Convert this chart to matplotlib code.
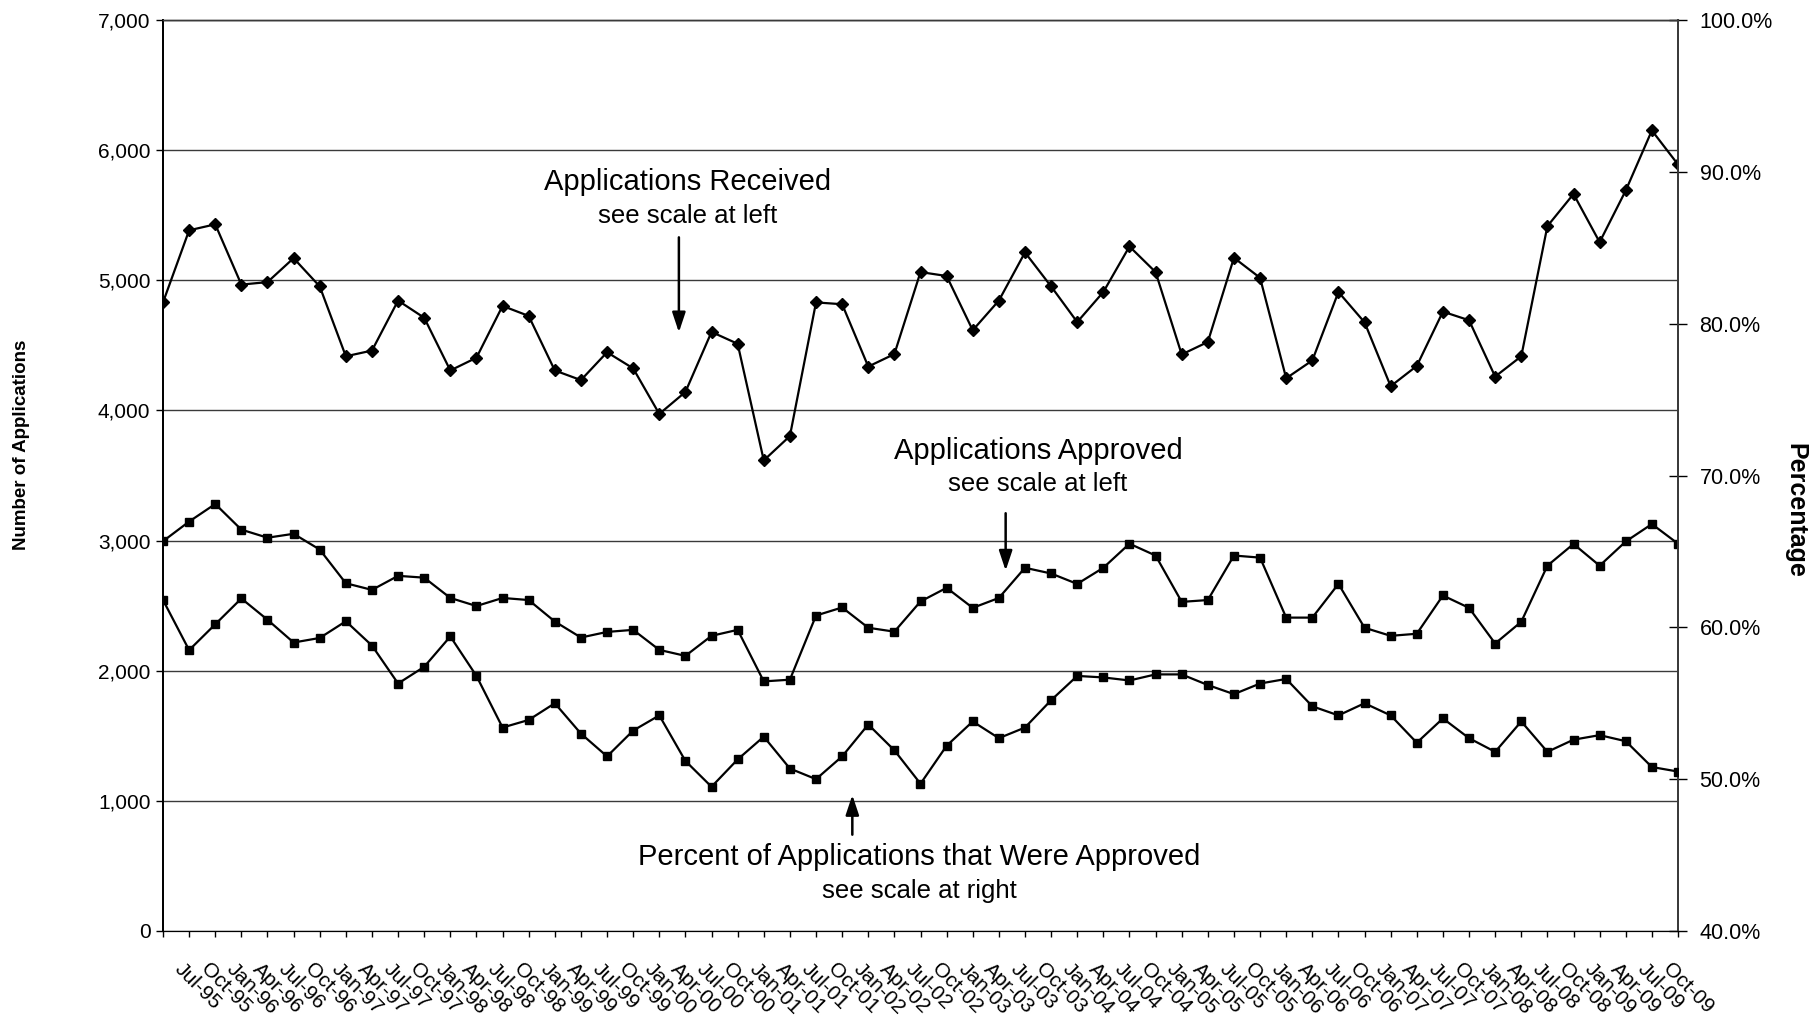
import matplotlib
matplotlib.use('Agg')
import matplotlib.pyplot as plt
from matplotlib.ticker import FuncFormatter
from matplotlib.transforms import ScaledTranslation

plt.rcParams['font.family'] = ['Liberation Sans', 'DejaVu Sans']

# Quarterly figures; the first point sits on the axis and carries no label
quarter_labels = ['',
                  'Jul-95', 'Oct-95', 'Jan-96', 'Apr-96', 'Jul-96', 'Oct-96',
                  'Jan-97', 'Apr-97', 'Jul-97', 'Oct-97', 'Jan-98', 'Apr-98',
                  'Jul-98', 'Oct-98', 'Jan-99', 'Apr-99', 'Jul-99', 'Oct-99',
                  'Jan-00', 'Apr-00', 'Jul-00', 'Oct-00', 'Jan-01', 'Apr-01',
                  'Jul-01', 'Oct-01', 'Jan-02', 'Apr-02', 'Jul-02', 'Oct-02',
                  'Jan-03', 'Apr-03', 'Jul-03', 'Oct-03', 'Jan-04', 'Apr-04',
                  'Jul-04', 'Oct-04', 'Jan-05', 'Apr-05', 'Jul-05', 'Oct-05',
                  'Jan-06', 'Apr-06', 'Jul-06', 'Oct-06', 'Jan-07', 'Apr-07',
                  'Jul-07', 'Oct-07', 'Jan-08', 'Apr-08', 'Jul-08', 'Oct-08',
                  'Jan-09', 'Apr-09', 'Jul-09', 'Oct-09']

received = [4830, 5384, 5430, 4967, 4986, 5170, 4953, 4416, 4460, 4844,
            4712, 4307, 4405, 4803, 4726, 4307, 4233, 4447, 4323, 3973,
            4142, 4603, 4512, 3616, 3803, 4830, 4816, 4337, 4433, 5063,
            5033, 4616, 4844, 5214, 4953, 4679, 4910, 5260, 5063, 4430,
            4526, 5173, 5019, 4247, 4384, 4910, 4677, 4186, 4342, 4759,
            4693, 4260, 4416, 5416, 5663, 5293, 5690, 6151, 5890]

approved = [2995, 3146, 3281, 3084, 3022, 3052, 2931, 2672, 2621, 2729,
            2715, 2559, 2497, 2559, 2543, 2378, 2255, 2298, 2314, 2160,
            2114, 2268, 2314, 1918, 1931, 2424, 2486, 2330, 2300, 2532,
            2637, 2483, 2559, 2791, 2747, 2667, 2791, 2976, 2885, 2529,
            2543, 2885, 2869, 2408, 2408, 2667, 2330, 2268, 2284, 2578,
            2483, 2209, 2376, 2807, 2974, 2807, 2993, 3127, 2976]

pct_approved = [61.8, 58.5, 60.2, 61.9, 60.5, 59.0, 59.3, 60.4, 58.8, 56.3,
                57.4, 59.4, 56.8, 53.4, 53.9, 55.0, 53.0, 51.5, 53.2, 54.2,
                51.2, 49.5, 51.3, 52.8, 50.7, 50.0, 51.5, 53.6, 51.9, 49.7,
                52.2, 53.8, 52.7, 53.4, 55.2, 56.8, 56.7, 56.5, 56.9, 56.9,
                56.2, 55.6, 56.3, 56.6, 54.8, 54.2, 55.0, 54.2, 52.4, 54.0,
                52.7, 51.8, 53.8, 51.8, 52.6, 52.9, 52.5, 50.8, 50.5]

x = list(range(len(received)))

fig = plt.figure(figsize=(18.18, 10.15), dpi=100)
ax = fig.add_axes([163 / 1818, 1 - 931 / 1015, 1515 / 1818, 911 / 1015])
ax2 = ax.twinx()

# Lines
ax.plot(x, received, color='black', lw=1.6, marker='D', ms=6.5, zorder=3)
ax.plot(x, approved, color='black', lw=1.6, marker='s', ms=6, zorder=3)
ax2.plot(x, pct_approved, color='black', lw=1.6, marker='s', ms=6, zorder=3)

# Axes ranges and grid
ax.set_xlim(0, len(received) - 1)
ax.set_ylim(0, 7000)
ax2.set_ylim(40, 100)
ax.set_yticks(range(0, 7001, 1000))
ax2.set_yticks(range(40, 101, 10))
ax.yaxis.set_major_formatter(FuncFormatter(lambda v, p: f'{int(v):,}'))
ax2.yaxis.set_major_formatter(FuncFormatter(lambda v, p: f'{v:.1f}%'))
ax.yaxis.grid(True, color='#3a3a3a', lw=1)
ax.set_axisbelow(True)

for a in (ax, ax2):
    a.spines['top'].set_color('#3a3a3a')
    a.spines['top'].set_linewidth(1)
    a.spines['left'].set_color('black')
    a.spines['right'].set_color('#3a3a3a')
    a.spines['bottom'].set_color('black')
    a.spines['left'].set_linewidth(1.3)
    a.spines['right'].set_linewidth(1.3)

ax.tick_params(axis='y', direction='out', length=5, width=1, pad=4,
               labelsize=15, colors='black')
ax2.tick_params(axis='y', direction='inout', length=13, width=1, pad=9,
                labelsize=15.5, colors='black')
ax.tick_params(axis='x', direction='out', length=4.5, width=1, pad=16)

ax.set_xticks(x)
ax.set_xticklabels(quarter_labels, rotation=-45, ha='left', va='top',
                   rotation_mode='anchor', fontsize=15)
shift = ScaledTranslation(-5 / 100, 0, fig.dpi_scale_trans)
for lab in ax.get_xticklabels():
    lab.set_transform(lab.get_transform() + shift)

# Axis titles
fig.text(22 / 1818, 1 - 445 / 1015, 'Number of Applications', rotation=90,
         ha='center', va='center', fontsize=13.5, fontweight='bold')
fig.text(1795 / 1818, 1 - 510 / 1015, 'Percentage', rotation=270,
         ha='center', va='center', fontsize=18, fontweight='bold')

# Annotations
arrow = dict(arrowstyle='-|>,head_length=0.6,head_width=0.2', color='black',
             lw=1.8, mutation_scale=20, shrinkA=0, shrinkB=0)

ax.text(20.1, 5753, 'Applications Received', ha='center', va='center',
        fontsize=21)
ax.text(20.1, 5494, 'see scale at left', ha='center', va='center',
        fontsize=18.5)
ax.annotate('', xy=(19.75, 4600), xytext=(19.75, 5330), arrowprops=arrow)

ax.text(33.5, 3692, 'Applications Approved', ha='center', va='center',
        fontsize=21)
ax.text(33.5, 3434, 'see scale at left', ha='center', va='center',
        fontsize=18.5)
ax.annotate('', xy=(32.26, 2769), xytext=(32.26, 3210), arrowprops=arrow)

ax.text(28.95, 571, 'Percent of Applications that Were Approved',
        ha='center', va='center', fontsize=21)
ax.text(28.95, 306, 'see scale at right', ha='center', va='center',
        fontsize=18.5)
ax.annotate('', xy=(26.39, 1045), xytext=(26.39, 740), arrowprops=arrow)

fig.savefig('out.png', dpi=100)
